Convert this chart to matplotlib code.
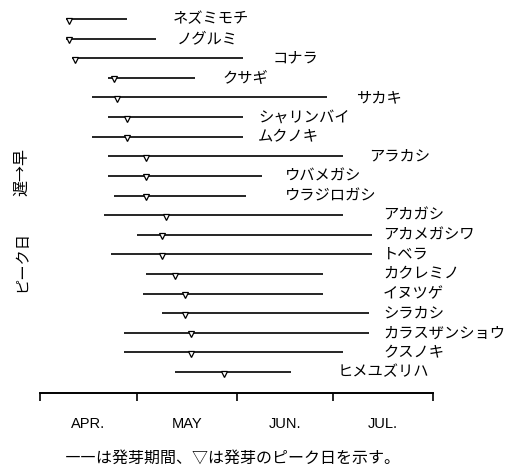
import matplotlib
matplotlib.use("Agg")
import matplotlib.pyplot as plt

plt.rcParams['font.family'] = ['Noto Sans CJK JP', 'DejaVu Sans']

# days counted from April 1
species = ['ネズミモチ', 'ノグルミ', 'コナラ', 'クサギ', 'サカキ', 'シャリンバイ', 'ムクノキ',
           'アラカシ', 'ウバメガシ', 'ウラジロガシ', 'アカガシ', 'アカメガシワ', 'トベラ',
           'カクレミノ', 'イヌツゲ', 'シラカシ', 'カラスザンショウ', 'クスノキ', 'ヒメユズリハ']
start = [8, 8, 10, 21, 16, 21, 16, 21, 21, 23, 20, 30, 22, 33, 32, 38, 26, 26, 42]
peak = [9, 9, 11, 23, 24, 27, 27, 33, 33, 33, 39, 38, 38, 42, 45, 45, 47, 47, 57]
end = [27, 36, 63, 48, 89, 63, 63, 94, 69, 64, 94, 103, 103, 88, 88, 102, 102, 94, 78]
month_edges = [0, 30, 61, 91, 122]
month_names = ['APR.', 'MAY', 'JUN.', 'JUL.']

# where each name is written (days)
label_x = [41.3, 42.5, 72.3, 56.8, 98.1, 67.7, 67.7, 102.1, 76.1, 76.1,
           106.5, 106.5, 106.5, 106.5, 106.5, 106.5, 106.5, 106.5, 92.5]

fig = plt.figure(figsize=(5.17, 4.74), dpi=100)
ax = fig.add_axes([40 / 517, (474 - 393) / 474, 393 / 517, 393 / 474])

for i, name in enumerate(species):
    ax.plot([start[i], end[i]], [i, i], color='black', lw=1.2, solid_capstyle='butt')
    ax.plot(peak[i], i + 0.08, marker='v', ms=5, mfc='white', mec='black', mew=0.9)
    ax.text(label_x[i], i, name, fontsize=11, va='center', ha='left')

ax.set_xlim(0, 122)
ax.set_ylim(19.07, -0.97)
for s in ['left', 'top', 'right']:
    ax.spines[s].set_visible(False)
ax.spines['bottom'].set_linewidth(1.4)
ax.set_yticks([])
ax.set_xticks(month_edges)
ax.set_xticklabels([])
ax.tick_params(axis='x', which='major', direction='out', length=6, width=1.2)
centers = [(month_edges[k] + month_edges[k + 1]) / 2 for k in range(4)]
ax.set_xticks(centers, minor=True)
ax.set_xticklabels(month_names, minor=True, fontsize=10.5, family='Liberation Sans')
ax.tick_params(axis='x', which='minor', length=0, pad=17)

fig.text(22 / 517, 1 - 262 / 474, 'ピーク日', rotation=90, ha='center', va='center', fontsize=11)
fig.text(22 / 517, 1 - 172 / 474, '遅→早', rotation=90, ha='center', va='center', fontsize=11.5)
fig.text(233 / 517, 1 - 458 / 474, '――は発芽期間、▽は発芽のピーク日を示す。',
         ha='center', va='center', fontsize=11.5)

fig.savefig('out.png', dpi=100)
